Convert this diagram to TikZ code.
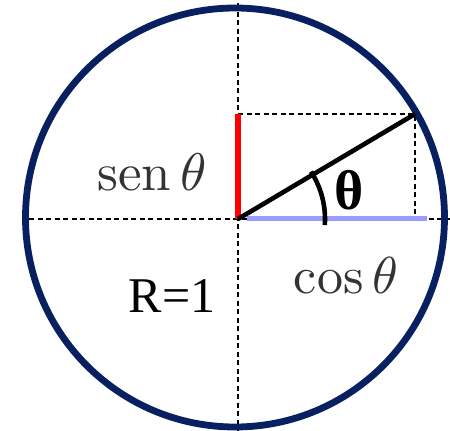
\documentclass[tikz,border=0pt]{standalone}
\usepackage{fontspec}
\newfontfamily\timesfont{Liberation Serif}
\definecolor{navy}{RGB}{8,32,96}
\definecolor{lavender}{RGB}{155,155,255}
\begin{document}
\begin{tikzpicture}[x=1pt,y=-1pt,
  guide/.style={black,line width=1.3pt,dash pattern=on 5pt off 3.5pt},
  lbl/.style={inner sep=0pt,text=black!80}]
\useasboundingbox (0,0) rectangle (450,431);
\coordinate (O) at (238,219);
\coordinate (P) at (415,114);
\coordinate (Y) at (238,114);
\coordinate (X) at (415,219);
\coordinate (top) at (238,3);
\coordinate (bot) at (238,431);
\coordinate (lft) at (29,219);
\coordinate (rgt) at (450,219);
\coordinate (C) at (235,217.5);
% dashed guides
\draw[guide] (top) -- (bot);
\draw[guide] (lft) -- (rgt);
\draw[guide] (Y) -- (P) -- (X);
% circle
\draw[navy,line width=6.8pt] (C) circle[radius=209.5];
% cos segment
\draw[lavender,line width=5pt] (247,218.5) -- (427,218.5);
% sin segment
\draw[red,line width=5.5pt] (O) -- (Y);
% radius
\draw[black,line width=4.6pt] (O) -- (P);
% angle arc
\draw[black,line width=4.6pt] ([shift={(4:87)}]O) arc[start angle=4,end angle=-33,radius=87];
% labels
\node[lbl] (sen) at (152,172) {\scalebox{5.3}{$\mathrm{sen}\,\theta$}};
\node[lbl] (cos) at (346,276) {\scalebox{5.2}{$\cos\theta$}};
\node[lbl,text=black,font=\timesfont\fontsize{50}{60}\selectfont] (R) at (172,296) {R=1};
\node[lbl,text=black,font=\timesfont\bfseries\fontsize{56}{60}\selectfont] (th) at (349,190) {θ};
\end{tikzpicture}
\end{document}
